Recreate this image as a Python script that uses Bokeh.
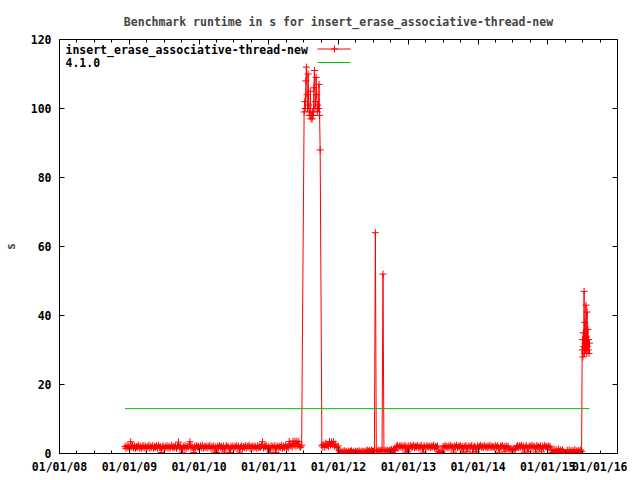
import pandas as pd
from bokeh.plotting import figure
from bokeh.models import Range1d, FixedTicker, DatetimeTickFormatter, DatetimeAxis, LinearAxis
from bokeh.embed import file_html
from bokeh.resources import INLINE
from bokeh.core.properties import value

FONT = "DejaVu Sans Mono"
FS = "11.5px"
RED = "#ff0000"
GREEN = "#00c000"

title = "Benchmark runtime in s for insert_erase_associative-thread-new"
series_name = "insert_erase_associative-thread-new"
ref_name = "4.1.0"

# --- data ---
seg_a_start, seg_a_step = "2008-12-09", 5
seg_a_values = [
    2.0, 1.5, 2.3, 1.7, 2.1, 1.4, 3.4, 1.9, 2.4, 1.6,
    2.2, 1.5, 2.0, 1.8, 2.4, 1.6, 2.1, 1.4, 1.9, 2.3,
    1.6, 2.2, 1.5, 2.0, 1.8, 2.4, 1.5, 2.1, 1.7, 2.3,
    1.5, 2.0, 1.8, 2.2, 1.6, 2.4, 1.7, 2.0, 0.3, 1.9,
    2.2, 1.5, 2.0, 1.7, 2.3, 1.6, 2.1, 1.5, 1.9, 2.4,
    1.6, 2.0, 1.8, 2.2, 1.5, 2.1, 3.3, 1.8, 2.0, 1.6,
    0.4, 2.1, 1.7, 2.3, 1.5, 2.0, 1.9, 2.2, 3.4, 1.6,
    2.0, 1.8, 0.3, 2.1, 1.6, 2.3, 1.8, 2.0, 1.5, 2.2,
    1.7, 2.4, 1.5, 2.0, 1.8, 2.2, 1.6, 2.1, 1.9, 2.3,
    1.5, 2.0, 1.7, 2.2, 0.4, 1.9, 0.3, 2.1, 1.6, 2.3,
    1.8, 2.0, 1.5, 2.2, 0.4, 1.7, 2.3, 1.9, 2.0, 1.6,
    0.3, 2.1, 1.7, 2.2, 1.5, 2.0, 1.8, 2.3, 1.6, 2.1,
    0.4, 1.8, 2.2, 1.5, 2.0, 1.7, 2.3, 1.6, 2.1, 1.9,
    2.4, 1.5, 2.0, 1.8, 2.2, 1.6, 2.1, 1.9, 1.5, 2.3,
    1.7, 2.0, 1.8, 2.2, 3.4, 1.6, 2.1, 1.9, 2.3, 1.5,
    2.0, 1.7, 0.4, 2.2, 1.8, 2.1, 1.6, 2.3, 0.3, 1.9,
    2.2, 1.6, 2.0, 1.8, 2.4, 1.5, 2.1, 1.7, 2.3, 1.9,
    2.0, 1.6, 3.5, 2.2, 2.8, 1.9, 3.6, 2.4, 3.5, 2.1,
    3.6, 2.3, 3.4, 2.0, 1.8, 2.4,
]
seg_b_start, seg_b_step = "2011-07-05", 3
seg_b_values = [99, 102, 100, 108, 112, 104, 100, 110, 101, 98,
                99, 105, 97, 98, 97, 99, 98, 106, 111, 100,
                102, 109, 104, 99, 101, 100, 107, 98, 88]
seg_c_start, seg_c_step = "2011-10-06", 5
seg_c_values = [
    2.4, 1.9, 2.6, 1.8, 3.0, 2.2, 2.5, 2.0, 3.5, 2.4,
    3.3, 2.6, 3.5, 2.1, 2.7, 2.0, 1.7, 2.2, 0.8, 0.4,
    0.6, 0.2, 0.7, 0.3, 0.8, 0.4, 0.5, 0.2, 0.7, 0.3,
    0.6, 0.8, 0.3, 0.5, 0.2, 0.7, 0.4, 0.6, 0.3, 0.8,
    0.5, 0.2, 0.7, 0.4, 0.6, 0.3, 0.8, 0.5, 1.0, 0.6,
    0.9, 0.5, 1.0, 0.7, 0.6, 0.9, 64.0, 0.8, 0.5, 1.0,
    0.6, 0.9, 0.7, 1.0, 52.0, 0.8, 0.5, 1.0, 0.7, 0.9,
    0.6, 1.0, 0.8, 1.2, 0.7, 0.9, 1.1, 0.8, 2.0, 2.4,
    1.7, 2.2, 1.9, 2.3, 1.6, 2.1, 1.8, 2.4, 0.4, 2.0,
    0.5, 2.2, 1.6, 2.3, 1.8, 2.0, 2.4, 1.7, 2.1, 1.9,
    2.3, 1.6, 2.0, 1.8, 2.4, 1.7, 0.4, 2.2, 1.9, 1.6,
    2.3, 2.0, 1.8, 2.2, 1.7, 2.1, 1.9, 2.4, 1.6, 2.0,
    1.8, 2.2, 0.5, 0.4, 0.5, 0.4, 0.5, 2.1, 1.7, 2.3,
    1.9, 2.0, 1.6, 2.2, 1.8, 2.4, 1.7, 2.0, 0.4, 2.2,
    1.8, 2.4, 1.7, 2.1, 1.9, 2.3, 1.6, 2.0, 0.4, 2.1,
    1.9, 2.3, 0.5, 1.8, 2.2, 1.6, 2.0, 2.4, 0.4, 1.8,
    2.1, 1.7, 0.5, 2.2, 1.6, 2.0, 2.4, 1.8, 2.1, 1.7,
    2.3, 1.9, 2.0, 1.6, 2.2, 1.8, 2.4, 1.7, 2.1, 1.9,
    2.0, 1.6, 2.3, 1.8, 2.2, 1.7, 0.4, 2.1, 1.9, 2.3,
    1.6, 2.0, 0.5, 2.2, 1.8, 2.1, 1.3, 1.0, 1.4, 1.1,
    1.2, 1.5, 1.0, 1.3, 2.0, 2.3, 1.7, 2.2, 1.9, 2.4,
    1.6, 2.1, 0.4, 1.9, 2.3, 1.7, 0.5, 2.0, 2.2, 1.8,
    2.4, 1.6, 2.1, 1.9, 0.4, 2.3, 1.8, 2.0, 1.7, 2.2,
    0.5, 2.1, 1.6, 2.3, 1.9, 2.0, 1.7, 2.2, 1.8, 2.1,
    1.1, 0.4, 0.9, 0.3, 1.2, 0.5, 1.0, 0.3, 1.3, 0.6,
    1.0, 0.4, 1.1, 0.5, 0.2, 0.3, 0.2, 0.9, 0.3, 1.0,
    0.4, 0.8, 0.3, 0.9, 0.5, 1.1, 0.3, 0.8, 0.5, 0.9,
    0.4, 1.0, 0.6,
]
seg_d_start, seg_d_step = "2015-06-30", 2
seg_d_values = [30, 33, 28, 35, 31, 47, 29, 38, 32, 30,
                43, 34, 29, 41, 31, 36, 30, 33, 29, 32]

ref_value = 13.0

year_ticks = ["2008-01-01", "2009-01-01", "2010-01-01", "2011-01-01", "2012-01-01",
              "2013-01-01", "2014-01-01", "2015-01-01", "2016-01-01"]
y_ticks = [0, 20, 40, 60, 80, 100, 120]


def ms(s):
    return pd.Timestamp(s).value / 1e6


dates, vals = [], []
for start, step, vs in [(seg_a_start, seg_a_step, seg_a_values),
                        (seg_b_start, seg_b_step, seg_b_values),
                        (seg_c_start, seg_c_step, seg_c_values),
                        (seg_d_start, seg_d_step, seg_d_values)]:
    t0 = pd.Timestamp(start)
    for i, v in enumerate(vs):
        dates.append(t0 + pd.Timedelta(days=step * i))
        vals.append(v)

ref_dates = [dates[0], dates[-1]]
ref_vals = [ref_value, ref_value]

x0, x1 = ms(year_ticks[0]), ms(year_ticks[-1])
y0, y1 = y_ticks[0], y_ticks[-1]

FW, FH = 558, 414
p = figure(frame_width=FW, frame_height=FH, output_backend="svg", toolbar_location=None,
           x_axis_type="datetime", x_range=Range1d(x0, x1), y_range=Range1d(y0, y1),
           min_border_left=54, min_border_right=10, min_border_top=39, min_border_bottom=19)
p.background_fill_color = "white"
p.border_fill_color = "white"
p.outline_line_color = "black"
p.outline_line_width = 1
p.xgrid.visible = False
p.ygrid.visible = False

p.title.text = title
p.title.align = "center"
p.title.text_font = FONT
p.title.text_font_size = FS
p.title.text_font_style = "bold"
p.title.standoff = 22

year_ms = [ms(t) for t in year_ticks]
minor = []
for a, b in zip(year_ms[:-1], year_ms[1:]):
    for k in range(1, 4):
        minor.append(a + (b - a) * k / 4)
xticker = FixedTicker(ticks=year_ms, minor_ticks=minor)
yticker = FixedTicker(ticks=y_ticks, minor_ticks=[])
fmt = "%m/%d/%y"
xfmt = DatetimeTickFormatter(years=fmt, months=fmt, days=fmt, hours=fmt, hourmin=fmt,
                             minutes=fmt, minsec=fmt, seconds=fmt, milliseconds=fmt,
                             microseconds=fmt)


def style(ax, minor_on):
    ax.major_tick_in = 5
    ax.major_tick_out = 0
    ax.minor_tick_in = 3 if minor_on else 0
    ax.minor_tick_out = 0
    ax.major_tick_line_color = "black"
    ax.minor_tick_line_color = "black" if minor_on else None
    ax.axis_line_color = None
    ax.major_label_text_font = FONT
    ax.major_label_text_font_size = FS
    ax.major_label_text_font_style = "bold"
    ax.major_label_text_color = "black"


xa = p.xaxis[0]
xa.ticker = xticker
xa.formatter = xfmt
style(xa, True)
xa.major_label_standoff = 6

ya = p.yaxis[0]
ya.ticker = yticker
style(ya, False)
ya.major_label_standoff = 8
ya.axis_label = "s"
ya.axis_label_text_font = FONT
ya.axis_label_text_font_size = FS
ya.axis_label_text_font_style = "bold"
ya.axis_label_standoff = 10

top = DatetimeAxis(ticker=xticker, formatter=xfmt)
style(top, True)
top.major_label_text_font_size = "1px"
top.major_label_text_color = None
top.major_label_standoff = 0
p.add_layout(top, "above")

right = LinearAxis(ticker=yticker)
style(right, False)
right.major_label_text_font_size = "1px"
right.major_label_text_color = None
right.major_label_standoff = 0
p.add_layout(right, "right")

# data
p.line(dates, vals, line_color=RED, line_width=1)
p.scatter(dates, vals, marker="cross", size=7, line_color=RED, line_width=1)
p.line(ref_dates, ref_vals, line_color=GREEN, line_width=1)

# legend (gnuplot style: text left, sample right), placed by pixel offsets in frame


def px_x(off):
    return x0 + (x1 - x0) * off / FW


def px_y(off):
    return y1 - (y1 - y0) * off / FH


p.text(x=[px_x(6), px_x(6)], y=[px_y(10), px_y(23)], text=[series_name, ref_name],
       text_font=value(FONT), text_font_size=FS, text_font_style="bold",
       text_baseline="middle", text_align="left", text_color="black")
p.line([px_x(258), px_x(291)], [px_y(9.5), px_y(9.5)], line_color=RED, line_width=1)
p.scatter([px_x(275)], [px_y(9.5)], marker="cross", size=7, line_color=RED, line_width=1)
p.line([px_x(258), px_x(291)], [px_y(23), px_y(23)], line_color=GREEN, line_width=1)

open("out.html", "w").write(file_html(p, INLINE))
